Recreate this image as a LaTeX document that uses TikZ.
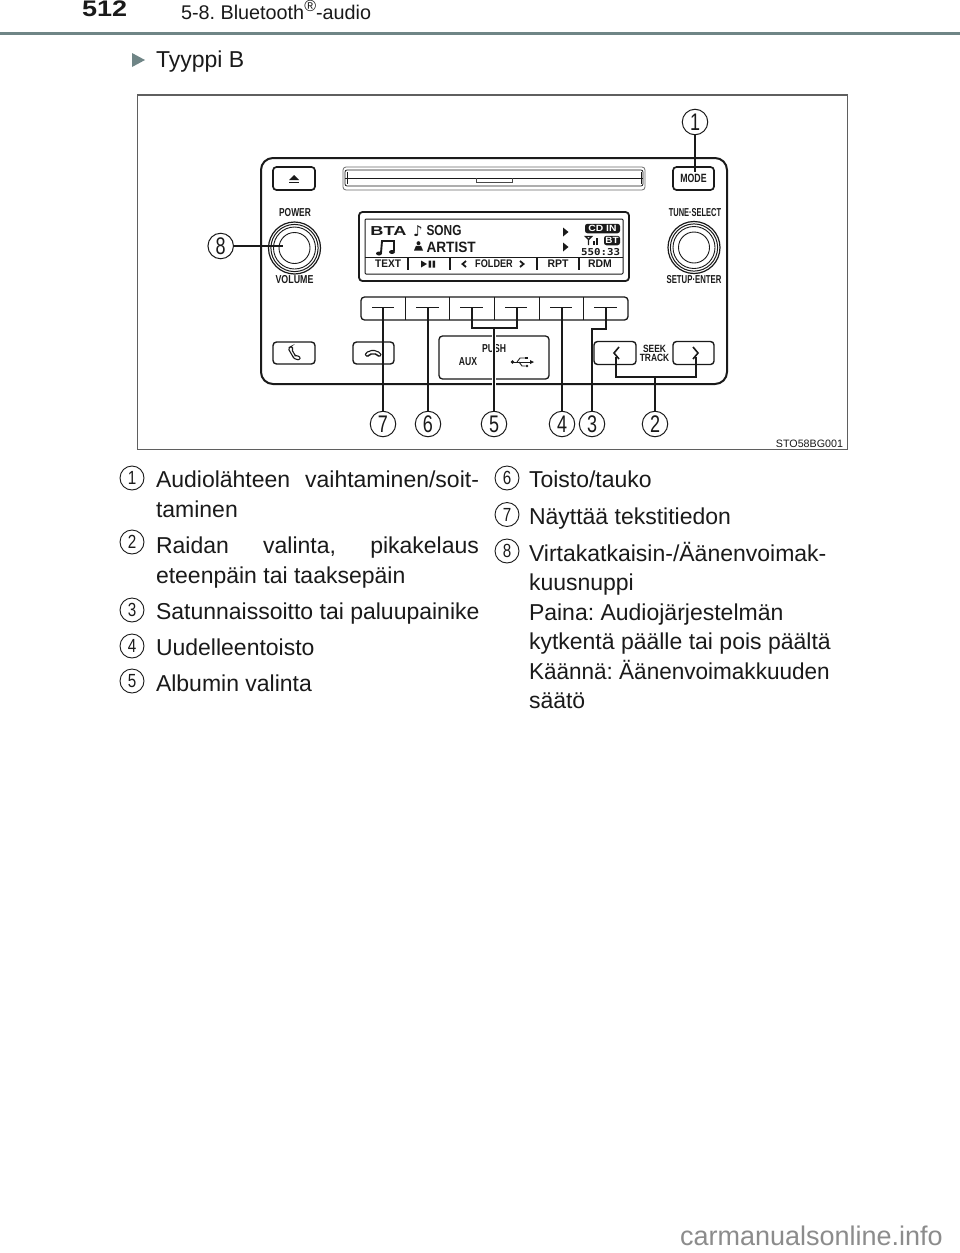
\documentclass[tikz,border=0pt]{standalone}
\usepackage{fontspec}
\setmainfont{Liberation Sans}
\newfontfamily\djfont{DejaVu Sans}
\newfontfamily\djmono{DejaVu Sans Mono}
\newcommand{\fsz}[1]{\fontsize{#1}{#1}\selectfont}
\newcommand{\narrowb}[2]{\scalebox{#1}[1]{\bfseries #2}}
\definecolor{rulegray}{HTML}{6F8586}
\definecolor{ink}{HTML}{1A1A1A}
\definecolor{wm}{HTML}{8C8C8C}
\frenchspacing
\tikzset{
  every node/.style={inner sep=0pt,outer sep=0pt,text=ink},
  body/.style={anchor=base west,font=\fsz{23}},
  panel/.style={draw=ink,line width=1.7pt,rounded corners=3.5pt},
  thinbox/.style={draw=ink,line width=1pt},
  lead/.style={draw=ink,line width=1.15pt},
  halo/.style={draw=white,line width=3.4pt},
  callout/.style={circle,draw=ink,line width=1pt,minimum size=25.5pt,fill=white,font=\fsz{24}},
  keynum/.style={circle,draw=ink,line width=.9pt,minimum size=24pt,font=\fsz{19}},
  lab/.style={font=\fsz{11.5}},
  lcd/.style={font=\fsz{11}},
}
\newcommand{\knob}[2]{%
  \draw[ink,line width=1.2pt] (#1,#2) circle[radius=26pt];
  \draw[ink,line width=1pt] (#1,#2) circle[radius=23.6pt];
  \draw[ink,line width=.9pt] (#1,#2) circle[radius=21pt];
  \draw[ink,line width=.9pt] (#1,#2) circle[radius=15.5pt];
}
\begin{document}
\begin{tikzpicture}[x=1pt,y=-1pt]
\useasboundingbox (0,0) rectangle (960,1253);
\fill[white] (0,0) rectangle (960,1253);

% header
\node[anchor=base west,font=\fsz{22.5}\bfseries] (pagenum) at (82,16.5) {\scalebox{1.2}[1]{512}};
\node[anchor=base west,font=\fsz{19.8}] (chapter) at (181,19) {5-8. Bluetooth\raisebox{7.5pt}{\fsz{16}®}-audio};
\fill[rulegray] (0,31.5) rectangle (960,35);
\fill[rulegray] (132,53) -- (145,60) -- (132,67) -- cycle;
\node[body] (type) at (156,67) {Tyyppi B};

% figure frame
\draw[draw=ink!70,line width=1.2pt] (137.5,95) rectangle (847.5,449.5);
\node[anchor=base east,font=\fsz{10.7}] (code) at (843,447.5) {STO58BG001};

% radio body
\node[draw=ink,line width=2pt,rounded corners=12pt,minimum width=466pt,minimum height=226pt] (radio) at (494,271) {};

% eject
\node[panel,minimum width=42pt,minimum height=23pt] (eject) at (294,178.5) {};
\fill[ink] (289,180) -- (294,175) -- (299,180) -- cycle;
\fill[ink] (289,181.5) rectangle (299,183);

% CD slot
\draw[ink!65,line width=.8pt,rounded corners=3pt] (343,167) rectangle (645,190);
\draw[ink,line width=.8pt,rounded corners=2pt] (345,170) rectangle (643,186);
\draw[ink,line width=.8pt] (345,178) -- (643,178);
\draw[ink,line width=.6pt] (347,172) -- (347,184) (641,172) -- (641,184);
\draw[ink!80,line width=.8pt] (476,178) -- (476,182) -- (512,182) -- (512,178);

% mode
\node[panel,minimum width=41pt,minimum height=23pt,font=\fsz{12}] (mode) at (693.5,178.5) {\narrowb{.73}{MODE}};

% knobs
\knob{294.5}{248}
\knob{694}{247.5}
\node[lab] (power) at (295,213) {\narrowb{.73}{POWER}};
\node[lab] (volume) at (294.5,280) {\narrowb{.77}{VOLUME}};
\node[lab] (tune) at (695,213) {\narrowb{.65}{TUNE·SELECT}};
\node[lab] (setup) at (694,280) {\narrowb{.675}{SETUP·ENTER}};

% display
\draw[panel,line width=1.8pt] (359,212) rectangle (629,281);
\draw[thinbox,rounded corners=1pt] (365,219) rectangle (623,274);
\draw[ink,line width=1pt] (365,257) -- (623,257);
\foreach \xv in {408,450,537,579} \draw[ink,line width=1.2pt] (\xv,257) -- (\xv,270);
\node[font=\fsz{13}\bfseries] (bta) at (388.5,231) {\scalebox{1.4}[1]{BTA}};
\node[font=\djfont\fsz{15}\bfseries] (note) at (418,231) {♪};
\node[anchor=west,font=\fsz{14.5}\bfseries] (song) at (426.5,231) {\scalebox{.82}[1]{SONG}};
\node[anchor=west,font=\fsz{15}\bfseries] (artist) at (426.5,247) {\scalebox{.91}[1]{ARTIST}};
% music icon and person icon
\draw[ink,line width=1.9pt] (381,253) -- (382,241) -- (394,241) -- (394,251);
\fill[ink] (379,253.5) ellipse[x radius=3pt,y radius=2pt];
\fill[ink] (392,252) ellipse[x radius=3pt,y radius=2pt];
\fill[ink] (418.5,243.2) circle[radius=2pt];
\fill[ink] (414,250.5) -- (416,245.8) -- (421,245.8) -- (423,250.5) -- cycle;
\fill[ink] (563,227.5) -- (568.5,232) -- (563,236.5) -- cycle;
\fill[ink] (563,242.5) -- (568.5,247) -- (563,251.5) -- cycle;
% status icons
\node[fill=ink,rounded corners=2.5pt,minimum width=35pt,minimum height=9.5pt,font=\fsz{9}\bfseries] (cdin) at (602.5,228.5) {\scalebox{1.15}[1]{\textcolor{white}{CD IN}}};
\node[fill=ink,rounded corners=2.5pt,minimum width=16pt,minimum height=9.5pt,font=\fsz{9}\bfseries] (bt) at (612,240.5) {\scalebox{1.1}[1]{\textcolor{white}{BT}}};
\draw[ink,line width=1.4pt] (585.5,236.5) -- (588.5,239.5) -- (591.5,236.5) -- cycle (588.5,239.5) -- (588.5,245);
\draw[ink,line width=1.5pt] (594,245) -- (594,241) (597,245) -- (597,237.5);
\node[font=\djmono\fsz{10}\bfseries] (clock) at (600.5,252.5) {\scalebox{1.08}[.95]{550:33}};
% softkey labels
\node[lcd] (text) at (388,264) {\narrowb{.92}{TEXT}};
\fill[ink] (421,260.5) -- (427,264) -- (421,267.5) -- cycle;
\fill[ink] (428.5,260.5) rectangle (431,267.5) (432.5,260.5) rectangle (435,267.5);
\node[lcd] (folder) at (494,264) {\narrowb{.83}{FOLDER}};
\draw[ink,line width=1.8pt] (466,261) -- (462.5,264) -- (466,267);
\draw[ink,line width=1.8pt] (520,261) -- (523.5,264) -- (520,267);
\node[lcd] (rpt) at (558,264) {\narrowb{.95}{RPT}};
\node[lcd] (rdm) at (600,264) {\narrowb{.95}{RDM}};

% soft key row
\draw[panel,line width=1.3pt] (361,297) rectangle (628,320);
\foreach \xv in {405,449,494,539,583} \draw[ink,line width=1pt] (\xv,297) -- (\xv,320);
\foreach \xa/\xb in {372/394,416/439,460/483,505/527,550/572,594/617} \draw[ink,line width=1pt] (\xa,307) -- (\xb,307);
\coordinate (k7) at (383,307);
\coordinate (k6) at (428,307);
\coordinate (k5a) at (472,307);
\coordinate (k5b) at (517,307);
\coordinate (k4) at (562,307);
\coordinate (k3) at (606,307);

% lower buttons
\node[panel,line width=1.4pt,minimum width=42pt,minimum height=22pt] (phone) at (294,353) {};
\draw[ink,line width=1.1pt,rounded corners=1pt] (290,347) -- (288.5,349) -- (294,358.5) -- (299,360) -- (300.5,357.5) -- (297,355.5) -- (295.5,356) -- (292,350) -- (293,348.5) -- (291,346.5) -- cycle;
\node[panel,line width=1.4pt,minimum width=41pt,minimum height=22pt] (hangup) at (373.5,353) {};
\draw[ink,line width=1.1pt,rounded corners=1.5pt] (365,356) -- (366,352.5) -- (373,350) -- (380,352.5) -- (381.5,356) -- (377.5,356) -- (376.5,354) -- (370,354) -- (369,356) -- cycle;
\node[panel,line width=1.3pt,minimum width=110pt,minimum height=43pt] (usbbox) at (494,357.5) {};
\node[lab] (push) at (494,349) {\narrowb{.75}{PUSH}};
\node[lab] (aux) at (468,362) {\narrowb{.75}{AUX}};
\fill[ink] (512.5,362) circle[radius=1.8pt];
\draw[ink,line width=.9pt] (513,362) -- (531,362);
\fill[ink] (534,362) -- (530,360) -- (530,364) -- cycle;
\draw[ink,line width=.9pt] (517,362) -- (520,358) -- (525,358);
\fill[ink] (525,356.7) rectangle (527.5,359.3);
\draw[ink,line width=.9pt] (519,362) -- (522,366) -- (525.5,366);
\fill[ink] (527,366) circle[radius=1.4pt];
\node[panel,line width=1.4pt,minimum width=42pt,minimum height=23pt] (prevb) at (615,353) {};
\node[panel,line width=1.4pt,minimum width=41pt,minimum height=23pt] (nextb) at (693.5,353) {};
\draw[ink,line width=1.6pt] (619,347) -- (614,353) -- (619,359);
\draw[ink,line width=1.6pt] (693,347) -- (698,353) -- (693,359);
\coordinate (k2a) at (616,357);
\coordinate (k2b) at (696,357);
\node[font=\fsz{10.5}] (seek) at (654.5,348.5) {\narrowb{.8}{SEEK}};
\node[font=\fsz{10.5}] (track) at (654.5,358) {\narrowb{.8}{TRACK}};

% callouts
\node[callout] (c1) at (695,122) {\scalebox{.75}[1]{1}};
\node[callout] (c8) at (220.7,246) {\scalebox{.75}[1]{8}};
\node[callout] (c7) at (383,424) {\scalebox{.75}[1]{7}};
\node[callout] (c6) at (428,424) {\scalebox{.75}[1]{6}};
\node[callout] (c5) at (494,424) {\scalebox{.75}[1]{5}};
\node[callout] (c4) at (562,424) {\scalebox{.75}[1]{4}};
\node[callout] (c3) at (592,424) {\scalebox{.75}[1]{3}};
\node[callout] (c2) at (655,424) {\scalebox{.75}[1]{2}};
\coordinate (t1) at (695,172);
\coordinate (t8) at (283,246);
\coordinate (j5) at (494,328);
\coordinate (j3) at (592,329);
\coordinate (j2) at (655,377);
\draw[halo] (c5) -- (j5);
\draw[lead] (c1) -- (t1);
\draw[lead] (c8) -- (t8);
\draw[lead] (c7) -- (k7);
\draw[lead] (c6) -- (k6);
\draw[lead] (c4) -- (k4);
\draw[lead] (c5) -- (j5);
\draw[lead] (k5a) |- (j5) -| (k5b);
\draw[lead] (c3) -- (j3) -| (k3);
\draw[lead] (c2) -- (j2);
\draw[lead] (k2a) |- (j2) -| (k2b);

% legend left
\node[keynum] (n1) at (132,478) {\scalebox{.8}[1]{1}};
\node[keynum] (n2) at (132,542) {\scalebox{.8}[1]{2}};
\node[keynum] (n3) at (132,610) {\scalebox{.8}[1]{3}};
\node[keynum] (n4) at (132,646) {\scalebox{.8}[1]{4}};
\node[keynum] (n5) at (132,681) {\scalebox{.8}[1]{5}};
\node[body] (l1a) at (156,487) {\makebox[323pt][s]{Audiolähteen vaihtaminen/soit-}};
\node[body] (l1b) at (156,517.5) {taminen};
\node[body] (l2a) at (156,553) {\makebox[323pt][s]{Raidan valinta, pikakelaus}};
\node[body] (l2b) at (156,583) {eteenpäin tai taaksepäin};
\node[body] (l3) at (156,619) {Satunnaissoitto tai paluupainike};
\node[body] (l4) at (156,655) {Uudelleentoisto};
\node[body] (l5) at (156,691.5) {Albumin valinta};

% legend right
\node[keynum] (n6) at (507,478) {\scalebox{.8}[1]{6}};
\node[keynum] (n7) at (507,514.5) {\scalebox{.8}[1]{7}};
\node[keynum] (n8) at (507,551) {\scalebox{.8}[1]{8}};
\node[body] (r6) at (529,487) {Toisto/tauko};
\node[body] (r7) at (529,524) {Näyttää tekstitiedon};
\node[body] (r8a) at (529,561) {Virtakatkaisin-/Äänenvoimak-};
\node[body] (r8b) at (529,590.5) {kuusnuppi};
\node[body] (r8c) at (529,620) {Paina: Audiojärjestelmän};
\node[body] (r8d) at (529,649.5) {kytkentä päälle tai pois päältä};
\node[body] (r8e) at (529,679) {\scalebox{.98}[1]{Käännä: Äänenvoimakkuuden}};
\node[body] (r8f) at (529,708) {säätö};

% watermark
\node[anchor=base west,font=\fsz{27},text=wm] (wmark) at (680,1245) {carmanualsonline.info};
\end{tikzpicture}
\end{document}
